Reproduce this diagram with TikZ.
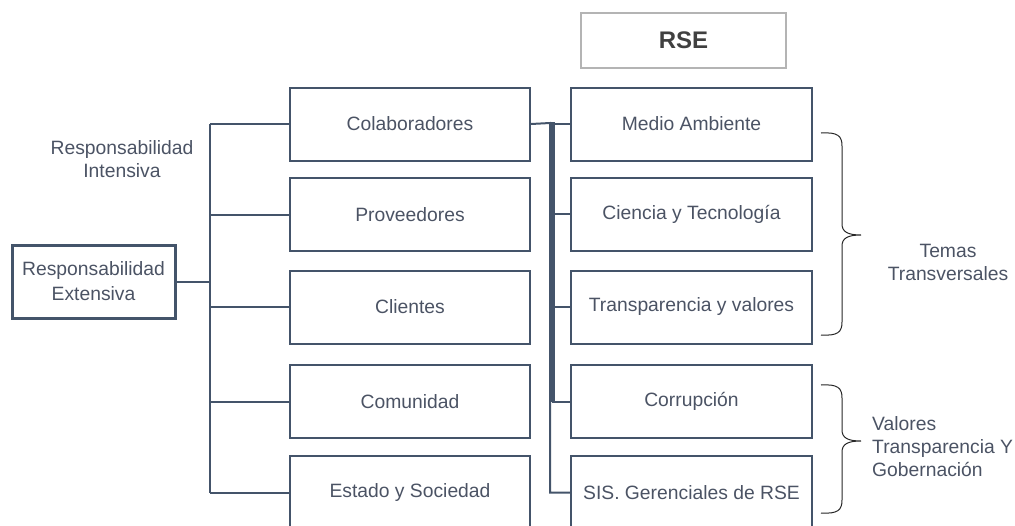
\documentclass[tikz,border=0pt]{standalone}
\usepackage{fontspec}
\setmainfont{Liberation Sans}
\definecolor{boxline}{HTML}{44546A}
\definecolor{txt}{HTML}{4B5364}
\definecolor{rsegray}{HTML}{B4B4B4}
\tikzset{
  caja/.style={draw=boxline, line width=2pt, minimum width=240pt, minimum height=73pt, inner sep=0pt, text=txt},
  linea/.style={boxline, line width=2pt},
  llave/.style={black!85, line width=1pt},
  etiqueta/.style={text=txt, inner sep=0pt}
}
\begin{document}
\begin{tikzpicture}[x=1pt, y=-1pt, font=\fontsize{19.3}{23}\selectfont]
\useasboundingbox (0,0) rectangle (1015,525);
% title
\node[draw=rsegray, line width=2pt, minimum width=205pt, minimum height=55pt, font=\fontsize{24}{28}\selectfont\bfseries, text=black!75] (rse) at (683.5,40.5) {RSE};

% left box and label
\node[caja, line width=3pt, minimum width=163pt, align=center] (ext) at (93.5,281.5) {Responsabilidad\\[2pt]Extensiva};
\node[etiqueta, align=center] (int) at (122,159) {Responsabilidad\\Intensiva};

% stakeholders
\foreach \i/\y/\t in {1/124/Colaboradores, 2/214.5/Proveedores, 3/307/Clientes, 4/401.5/Comunidad, 5/492.5/Estado y Sociedad}
{
    \node[caja] (m\i) at (410,\y) {\t};
}
% topics
\foreach \i/\y/\t in {1/124/Medio Ambiente, 2/214/Ciencia y Tecnología, 3/307/Transparencia y valores, 4/401.5/Corrupción, 5/492.5/SIS. Gerenciales de RSE}
{
    \node[caja, minimum width=241pt] (r\i) at (691.5,\y) {\t};
}

% left tree
\coordinate (tl) at (210,123);
\draw[linea] (ext.east) -- (ext.east -| tl);
\draw[linea] (tl |- m1.west) -- (tl |- m5.west);
\foreach \i in {1,...,5}
{
    \draw[linea] (tl |- m\i.west) -- (m\i.west);
}

% right tree
\coordinate (tr) at (550,123);
\coordinate (tq) at (552,122);
\draw[linea] (m1.east) -- (tr) -- (tr |- r5.west) -- (r5.west);
\draw[linea, line width=6pt] (tq) -- (tq |- r4.west);
\foreach \i in {1,...,4}
{
    \draw[linea] (tq |- r\i.west) -- (r\i.west);
}

% braces
\foreach \a/\b/\c/\n in {133/235/335/b1, 385/441/513/b2}
{
    \draw[llave] (821,\a) .. controls (838,\a-1) and (842,\a+3) .. (842,\a+13) -- (842,\b-11)
        .. controls (842,\b-3) and (848,\b) .. (861,\b) coordinate (\n)
        .. controls (848,\b) and (842,\b+3) .. (842,\b+11) -- (842,\c-13)
        .. controls (842,\c-3) and (838,\c+1) .. (821,\c);
}
\node[etiqueta, align=center] (temas) at (948,262) {Temas\\Transversales};
\node[etiqueta, align=left, anchor=west] (valores) at (872,447) {Valores\\Transparencia Y\\Gobernación};
\end{tikzpicture}
\end{document}
